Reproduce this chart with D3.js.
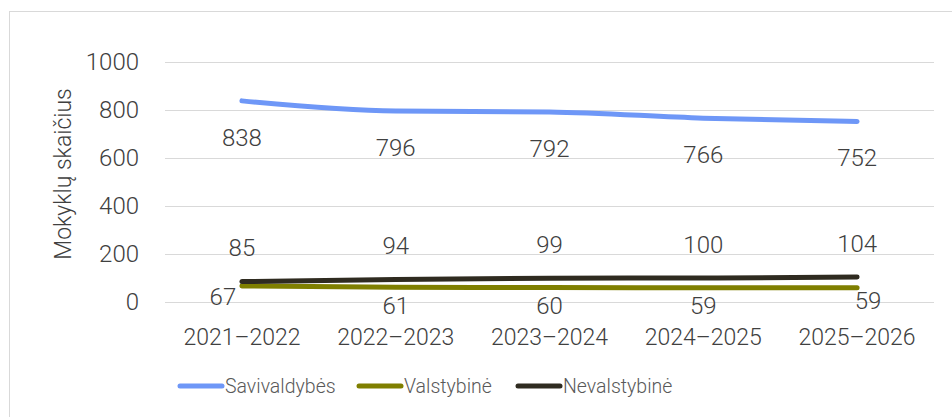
<!DOCTYPE html>
<html><head><meta charset="utf-8">
<script src="https://cdn.jsdelivr.net/npm/d3@7"></script>
<style>body{margin:0;background:#fff}svg{display:block;font-family:Roboto,"Liberation Sans",Arial,sans-serif;font-weight:300}</style>
</head><body><svg id="c" width="952" height="417"></svg>
<script>
const categories = ["2021–2022","2022–2023","2023–2024","2024–2025","2025–2026"];
const savivaldybes = [838,796,792,766,752];
const valstybine = [67,61,60,59,59];
const nevalstybine = [85,94,99,100,104];
const yTicks = [0,200,400,600,800,1000];
const seriesNames = ["Savivaldybės","Valstybinė","Nevalstybinė"];
const yTitle = "Mokyklų skaičius";

const colors = ["#6E97F7","#7F7F00","#2F2B20"];
const FONT = "Roboto, 'Liberation Sans', Arial, sans-serif";
const svg = d3.select("#c");
svg.append("rect").attr("x",9.5).attr("y",11.5).attr("width",960).attr("height",420)
  .attr("fill","none").attr("stroke","#d9d9d9").attr("stroke-width",1);

const x = d3.scaleBand().domain(categories).range([165,934]);
const y = d3.scaleLinear().domain([0,1000]).range([302,62]);
const cx = c => x(c)+x.bandwidth()/2;

const g = svg.append("g");
g.selectAll("line.grid").data(yTicks).join("line")
  .attr("x1",165).attr("x2",934).attr("y1",d=>Math.round(y(d))+0.5).attr("y2",d=>Math.round(y(d))+0.5)
  .attr("stroke","#d9d9d9").attr("stroke-width",1);

const yAxis = d3.axisLeft(y).tickValues(yTicks).tickFormat(d3.format("d")).tickSize(0).tickPadding(0);
const ya = svg.append("g").attr("transform","translate(139,0)").call(yAxis);
ya.select(".domain").remove();
ya.selectAll("text").attr("font-size",24).attr("fill","#404040").attr("font-family",FONT).attr("font-weight",300);

const xAxis = d3.axisBottom(x).tickSize(0).tickPadding(0);
const xa = svg.append("g").attr("transform","translate(0,329)").call(xAxis);
xa.select(".domain").remove();
xa.selectAll("text").attr("font-size",23).attr("fill","#404040").attr("dy","0.71em").attr("font-family",FONT).attr("font-weight",300);

svg.append("text").attr("transform","translate(71,174) rotate(-90)").attr("text-anchor","middle")
  .attr("font-size",23).attr("fill","#404040").text(yTitle);

const series = [savivaldybes, valstybine, nevalstybine];
const line = d3.line().x((d,i)=>cx(categories[i])).y(d=>y(d)).curve(d3.curveMonotoneX);
series.forEach((s,k)=>{
  g.append("path").attr("d",line(s)).attr("fill","none").attr("stroke",colors[k])
    .attr("stroke-width",5).attr("stroke-linecap","round").attr("stroke-linejoin","round");
});

const labelOffset = [36, 18, -34];
const tweak = {"1-0":[-19,-8],"1-4":[11,-5]};
series.forEach((s,k)=>{
  s.forEach((v,i)=>{
    const t = tweak[k+"-"+i] || [0,0];
    svg.append("text").attr("x",cx(categories[i])+t[0]).attr("y",y(v)+labelOffset[k]+t[1])
      .attr("dy","0.36em").attr("text-anchor","middle").attr("font-size",24).attr("fill","#404040").text(v);
  });
});

const legX = [178,357,516];
seriesNames.forEach((n,k)=>{
  svg.append("line").attr("x1",legX[k]+2).attr("x2",legX[k]+44).attr("y1",386).attr("y2",386)
    .attr("stroke",colors[k]).attr("stroke-width",5).attr("stroke-linecap","round");
  svg.append("text").attr("x",legX[k]+47).attr("y",393).attr("font-size",19.5).attr("fill","#595959").text(n);
});
</script></body></html>
